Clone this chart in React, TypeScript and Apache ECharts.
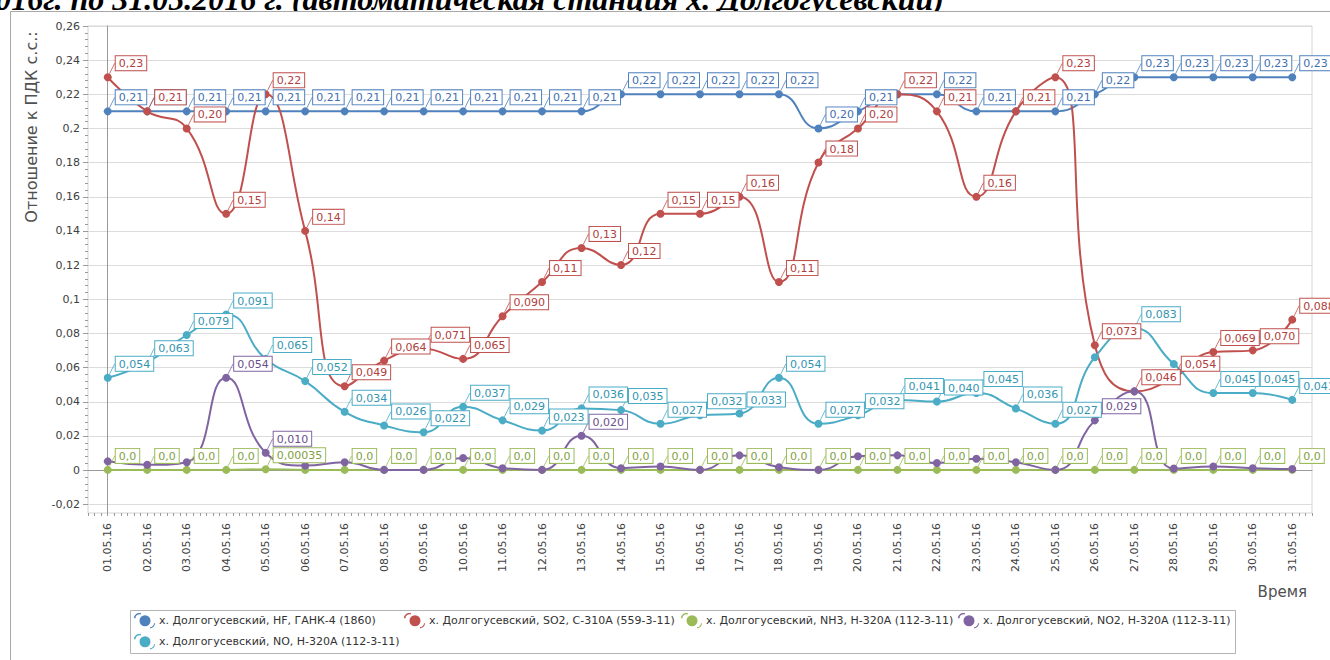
import React, { useEffect, useRef } from 'react';
import * as echarts from 'echarts';

const categories = [
  '01.05.16', '02.05.16', '03.05.16', '04.05.16', '05.05.16', '06.05.16', '07.05.16', '08.05.16',
  '09.05.16', '10.05.16', '11.05.16', '12.05.16', '13.05.16', '14.05.16', '15.05.16', '16.05.16',
  '17.05.16', '18.05.16', '19.05.16', '20.05.16', '21.05.16', '22.05.16', '23.05.16', '24.05.16',
  '25.05.16', '26.05.16', '27.05.16', '28.05.16', '29.05.16', '30.05.16', '31.05.16',
];

const hfName = 'х. Долгогусевский, HF, ГАНК-4 (1860)';
const so2Name = 'х. Долгогусевский, SO2, С-310А (559-3-11)';
const nh3Name = 'х. Долгогусевский, NH3, Н-320А (112-3-11)';
const no2Name = 'х. Долгогусевский, NO2, Н-320А (112-3-11)';
const noName = 'х. Долгогусевский, NO, Н-320А (112-3-11)';

const hfValues = [
  0.21, 0.21, 0.21, 0.21, 0.21, 0.21, 0.21, 0.21, 0.21, 0.21, 0.21, 0.21, 0.21,
  0.22, 0.22, 0.22, 0.22, 0.22, 0.20, 0.21, 0.22, 0.22, 0.21, 0.21, 0.21, 0.22,
  0.23, 0.23, 0.23, 0.23, 0.23,
];
const so2Values = [
  0.23, 0.21, 0.20, 0.15, 0.22, 0.14, 0.049, 0.064, 0.071, 0.065, 0.090, 0.11, 0.13,
  0.12, 0.15, 0.15, 0.16, 0.11, 0.18, 0.20, 0.22, 0.21, 0.16, 0.21, 0.23, 0.073,
  0.046, 0.054, 0.069, 0.070, 0.088,
];
const nh3Values = [
  0, 0, 0, 0, 0.00035, 0, 0, 0, 0, 0, 0, 0, 0, 0, 0, 0, 0, 0, 0, 0, 0, 0, 0, 0, 0, 0,
  0, 0, 0, 0, 0,
];
const no2Values = [
  0.005, 0.003, 0.0045, 0.054, 0.010, 0.0025, 0.0045, 0, 0, 0.007, 0.001, 0, 0.020,
  0.001, 0.002, 0, 0.0085, 0.0015, 0, 0.008, 0.0085, 0.004, 0.0065, 0.0045, 0, 0.029,
  0.046, 0.0008, 0.002, 0.001, 0.0005,
];
const noValues = [
  0.054, 0.063, 0.079, 0.091, 0.065, 0.052, 0.034, 0.026, 0.022, 0.037, 0.029, 0.023,
  0.036, 0.035, 0.027, 0.032, 0.033, 0.054, 0.027, 0.032, 0.041, 0.040, 0.045, 0.036,
  0.027, 0.066, 0.083, 0.062, 0.045, 0.045, 0.041,
];

// indices of data labels hidden by overlap in the original
const hfHiddenLabels = [20, 23];
const so2HiddenLabels: number[] = [];
const nh3HiddenLabels = [5];
const no2ShownLabels = [3, 4, 12, 25];
const noHiddenLabels = [25, 27];

const FONT = '"DejaVu Sans", sans-serif';

const fmt = (v: number) => v.toPrecision(2).replace('.', ',');

function makeSeries(name: string, values: number[], color: string, textColor: string, isHidden: (i: number) => boolean) {
  return {
    type: 'line',
    name,
    xAxisIndex: 0,
    yAxisIndex: 0,
    smooth: true,
    symbol: 'circle',
    symbolSize: 8,
    lineStyle: { color, width: 2 },
    itemStyle: { color },
    emphasis: { disabled: true },
    data: values.map((v, i) => (isHidden(i) ? { value: v, label: { show: false }, labelLine: { show: false } } : v)),
    label: {
      show: true,
      formatter: (p: any) => fmt(p.value as number),
      color: textColor,
      backgroundColor: '#ffffff',
      borderColor: color,
      borderWidth: 1,
      padding: [2, 3, 1, 3],
      fontSize: 11,
      fontFamily: FONT,
      position: 'right',
    },
    labelLine: { show: true, lineStyle: { color, width: 1, opacity: 0.8 } },
    labelLayout: (params: any) => ({
      x: params.rect.x + params.rect.width / 2 + 8,
      y: params.rect.y + params.rect.height / 2 - 7,
      align: 'left',
      verticalAlign: 'bottom',
    }),
  };
}

const legendIcon =
  'path://M5.5,8.5 a5.5,5.5 0 1,0 11,0 a5.5,5.5 0 1,0 -11,0 Z M0,6 C0,2 4,0 7,1 L7,2 C4,1.5 1.5,3 1.5,6 Z M16,15 C18,15 20,13 20,11 L21,11 C21,14 18,16 16,16 Z';

function makeLegend(name: string, left: number, top: number) {
  return {
    data: [name],
    left,
    top,
    orient: 'horizontal',
    itemWidth: 21,
    itemHeight: 16,
    icon: legendIcon,
    padding: 0,
    selectedMode: false,
    textStyle: { fontSize: 11, color: '#333333', fontFamily: FONT, padding: [0, 0, 0, -1] },
  };
}

export default function App() {
  const ref = useRef<HTMLDivElement>(null);
  useEffect(() => {
    document.body.style.margin = '0';
    if (!ref.current) return;
    const chart = echarts.init(ref.current, undefined, { renderer: 'svg' });
    const yMinData = -0.02526;
    const option: any = {
      animation: false,
      textStyle: { fontFamily: FONT },
      color: ['#4f81bd', '#c0504d', '#9bbb59', '#8064a2', '#4bacc6'],
      grid: [
        { left: 88, top: 26, right: 18, bottom: 147, show: true, borderColor: '#d4d4d4', borderWidth: 1, containLabel: false },
        { left: 88, top: 26, right: 18, bottom: 155.7, show: false, containLabel: false },
      ],
      xAxis: [
        {
          type: 'category',
          gridIndex: 0,
          data: categories,
          boundaryGap: true,
          position: 'bottom',
          axisLine: { lineStyle: { color: '#9a9a9a', width: 1 } },
          axisTick: { alignWithLabel: true, length: 5, lineStyle: { color: '#9a9a9a' } },
          axisLabel: { rotate: 90, fontSize: 11, color: '#404040', margin: 10, fontFamily: FONT },
          splitLine: { show: false },
        },
        {
          type: 'value',
          gridIndex: 0,
          position: 'bottom',
          min: -0.5,
          max: 30.5,
          interval: 0.5,
          axisLine: { show: false },
          axisLabel: { show: false },
          axisTick: { show: true, length: 3, lineStyle: { color: '#9a9a9a' } },
          minorTick: { show: true, splitNumber: 3, length: 3, lineStyle: { color: '#9a9a9a' } },
          splitLine: { show: false },
        },
        {
          type: 'category',
          gridIndex: 1,
          data: categories,
          show: false,
        },
      ],
      yAxis: [
        {
          type: 'value',
          gridIndex: 0,
          min: yMinData,
          max: 0.26,
          axisLine: { show: true, lineStyle: { color: '#9a9a9a', width: 1 } },
          axisTick: { show: false },
          axisLabel: { show: false },
          splitLine: { show: false },
        },
        {
          type: 'value',
          gridIndex: 1,
          min: -0.02,
          max: 0.26,
          interval: 0.02,
          axisLine: { show: false },
          axisTick: { show: true, length: 5, lineStyle: { color: '#9a9a9a' } },
          minorTick: { show: true, splitNumber: 5, length: 3, lineStyle: { color: '#9a9a9a' } },
          axisLabel: {
            fontSize: 11,
            color: '#404040',
            margin: 8,
            fontFamily: FONT,
            formatter: (v: number) => String(Number(v.toFixed(2))).replace('.', ','),
          },
          splitLine: { show: true, lineStyle: { color: '#dcdcdc', width: 1 } },
        },
      ],
      legend: [
        makeLegend(hfName, 134, 613),
        makeLegend(so2Name, 404, 613),
        makeLegend(nh3Name, 681, 613),
        makeLegend(no2Name, 958, 613),
        makeLegend(noName, 134, 634),
      ],
      graphic: [
        {
          type: 'text',
          x: 944,
          y: -0.8,
          z: -2,
          silent: true,
          style: {
            text: '016г. по 31.05.2016 г. (автоматическая станция х. Долгогусевский)',
            font: 'italic bold 32px "Liberation Serif", serif',
            fill: '#000000',
            align: 'right',
            verticalAlign: 'middle',
          },
        },
        {
          type: 'rect',
          silent: true,
          z: -1,
          shape: { x: 10.5, y: 11.5, width: 1400, height: 700 },
          style: { fill: '#ffffff', stroke: '#a8a8a8', lineWidth: 1 },
        },
        {
          type: 'text',
          x: 31,
          y: 127,
          rotation: Math.PI / 2,
          silent: true,
          style: {
            text: 'Отношение к ПДК с.с.:',
            font: '16px "DejaVu Sans", sans-serif',
            fill: '#505050',
            align: 'center',
            verticalAlign: 'middle',
          },
        },
        {
          type: 'text',
          x: 1307,
          y: 592,
          silent: true,
          style: {
            text: 'Время',
            font: '15px "DejaVu Sans", sans-serif',
            fill: '#505050',
            align: 'right',
            verticalAlign: 'middle',
          },
        },
        {
          type: 'rect',
          silent: true,
          shape: { x: 130.5, y: 610.5, width: 1105, height: 43 },
          style: { fill: 'none', stroke: '#b4b4b4', lineWidth: 1 },
        },
      ],
      series: [
        makeSeries(hfName, hfValues, '#4f81bd', '#3f6fae', (i) => hfHiddenLabels.includes(i)),
        makeSeries(so2Name, so2Values, '#c0504d', '#b0403d', (i) => so2HiddenLabels.includes(i)),
        makeSeries(nh3Name, nh3Values, '#9bbb59', '#7f9f3f', (i) => nh3HiddenLabels.includes(i)),
        makeSeries(no2Name, no2Values, '#8064a2', '#6a4e8c', (i) => !no2ShownLabels.includes(i)),
        makeSeries(noName, noValues, '#4bacc6', '#3295b0', (i) => noHiddenLabels.includes(i)),
      ],
    };
    chart.setOption(option);
    return () => chart.dispose();
  }, []);
  return <div ref={ref} style={{ width: 1330, height: 660 }} />;
}
